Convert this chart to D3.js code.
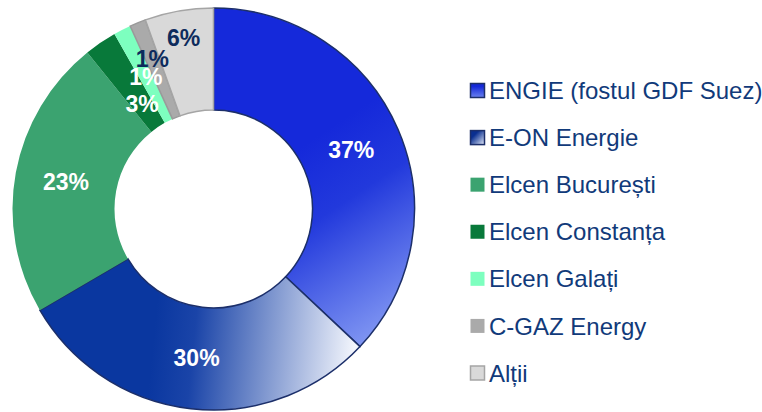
<!DOCTYPE html>
<meta charset="utf-8">
<head>
<script src="https://d3js.org/d3.v7.min.js"></script>
</head>
<style>
  html, body { margin: 0; background: #fff; }
  text { font-family: Arial, "Liberation Sans", sans-serif; }
  .pct { font-size: 23px; font-weight: bold; }
  .legend text { font-size: 24px; fill: #113a7a; }
</style>
<body>
<svg id="chart" width="762" height="412"></svg>
<script>
// market shares (%), clockwise from 12 o'clock
var names = ["ENGIE (fostul GDF Suez)", "E-ON Energie", "Elcen București", "Elcen Constanța", "Elcen Galați", "C-GAZ Energy", "Alții"];
var shares = [37.0, 29.6, 22.6, 2.6, 1.4, 1.3, 5.5];
var shareLabels = ["37%", "30%", "23%", "3%", "1%", "1%", "6%"];

// styling per slice
var fills = ["url(#gEngie)", "url(#gEon)", "#3ba370", "#08793a", "#7dffbf", "#aaaaaa", "#d9d9d9"];
var legendFills = ["url(#lEngie)", "url(#lEon)", "#3ba370", "#08793a", "#7dffbf", "#aaaaaa", "#d9d9d9"];
var strokes = ["#1c2f6a", "#1c2f6a", "none", "none", "none", "#9a9a9a", "#a5a5a5"];
var legendStrokes = ["#1c2f6a", "#1c2f6a", "none", "none", "none", "none", "#a5a5a5"];
var labelColors = ["#fff", "#fff", "#fff", "#fff", "#fff", "#0d2b5c", "#0d2b5c"];
var labelRadius = [150, 150, 150, 127, 149, 162, 174];

var svg = d3.select("#chart");
var cx = 213.5, cy = 209, rOut = 201, rIn = 99;

var defs = svg.append("defs");
function linGrad(id, units, x1, y1, x2, y2, stops) {
  var g = defs.append("linearGradient").attr("id", id)
    .attr("gradientUnits", units)
    .attr("x1", x1).attr("y1", y1).attr("x2", x2).attr("y2", y2);
  stops.forEach(function(s) {
    g.append("stop").attr("offset", s[0]).attr("stop-color", s[1]);
  });
}
// slice gradients, in chart coordinates relative to the centre
linGrad("gEngie", "userSpaceOnUse", 40, -30, 150, 135, [[0, "#1529da"], [0.35, "#2239dc"], [1, "#7f95f2"]]);
linGrad("gEon", "userSpaceOnUse", -60, 130, 140, 150, [[0, "#0a37a0"], [0.2, "#1a44a8"], [1, "#f2f5fc"]]);
// legend swatches
linGrad("lEngie", "objectBoundingBox", 0.5, 0.2, 0.5, 1, [[0, "#1428d8"], [1, "#6a82f0"]]);
linGrad("lEon", "objectBoundingBox", 0.3, 0.3, 1, 1, [[0, "#0a2f90"], [1, "#e6ecfa"]]);

var pie = d3.pie().sort(null).value(function(d) { return d; });
var arcs = pie(shares);
var arc = d3.arc().innerRadius(rIn).outerRadius(rOut);

var g = svg.append("g").attr("transform", "translate(" + cx + "," + cy + ")");

g.selectAll("path.slice")
  .data(arcs)
  .enter().append("path")
    .attr("class", "slice")
    .attr("d", arc)
    .attr("fill", function(d, i) { return fills[i]; })
    .attr("stroke", function(d, i) { return strokes[i]; })
    .attr("stroke-width", 1.5);

g.selectAll("text.pct")
  .data(arcs)
  .enter().append("text")
    .attr("class", "pct")
    .attr("transform", function(d, i) {
      var c = d3.arc().innerRadius(labelRadius[i]).outerRadius(labelRadius[i]).centroid(d);
      return "translate(" + c[0] + "," + c[1] + ")";
    })
    .attr("text-anchor", "middle")
    .attr("dy", "0.36em")
    .attr("fill", function(d, i) { return labelColors[i]; })
    .text(function(d, i) { return shareLabels[i]; });

// legend
var ly = d3.scalePoint().domain(names).range([90.5, 373]);
var legend = svg.append("g").attr("class", "legend");
var rows = legend.selectAll("g")
  .data(names)
  .enter().append("g")
    .attr("transform", function(d) { return "translate(470," + ly(d) + ")"; });
rows.append("rect")
  .attr("x", 0.5).attr("y", -7).attr("width", 14).attr("height", 14)
  .attr("fill", function(d, i) { return legendFills[i]; })
  .attr("stroke", function(d, i) { return legendStrokes[i]; })
  .attr("stroke-width", 1.5);
rows.append("text")
  .attr("x", 19).attr("dy", "0.36em")
  .text(function(d) { return d; });
</script>
</body>
